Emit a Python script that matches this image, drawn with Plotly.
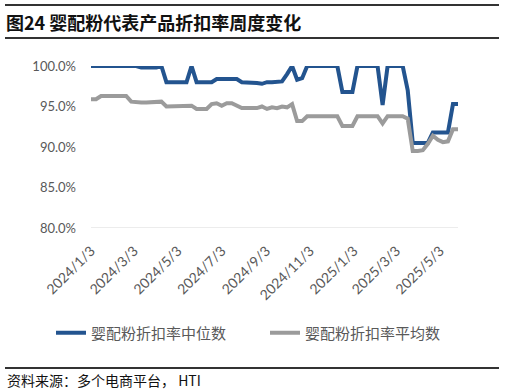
import plotly.graph_objects as go
import pandas as pd

dates = pd.date_range("2024-01-03", periods=74, freq="7D")

median_vals = [
    100, 100, 100, 100, 100, 100, 100, 100, 100, 100,
    99.8, 99.8, 99.8, 99.8, 100, 98, 98, 98, 98, 98,
    100, 98, 98, 98, 98, 98.4, 98.4, 98.4, 98.4, 98.4,
    98, 98, 98, 97.9, 97.8, 98, 98, 98, 98.1, 99,
    100, 98.3, 98.5, 100, 100, 100, 100, 100, 100, 100,
    96.8, 96.8, 96.8, 100, 100, 100, 100, 100, 95.2, 100,
    100, 100, 100, 97, 90.5, 90.5, 90.5, 90.5, 91.8, 91.8,
    91.8, 91.8, 95.3, 95.3,
]
mean_vals = [
    95.9, 95.9, 96.3, 96.3, 96.3, 96.3, 96.3, 96.3, 95.6, 95.5,
    95.5, 95.5, 95.5, 95.6, 95.6, 95.0, 95.0, 95.0, 95.0, 95.0,
    95.1, 94.7, 94.7, 94.7, 95.3, 95.4, 95.1, 95.4, 95.4, 95.1,
    94.8, 94.8, 94.8, 94.8, 95.0, 94.7, 94.9, 94.8, 95.0, 94.9,
    95.3, 93.2, 93.2, 93.8, 93.8, 93.8, 93.8, 93.8, 93.8, 93.8,
    92.6, 92.6, 92.6, 93.8, 93.8, 93.8, 93.8, 93.8, 92.9, 93.8,
    93.8, 93.8, 93.8, 93.5, 89.5, 89.5, 89.6, 90.4, 91.4, 90.9,
    90.6, 90.7, 92.2, 92.2,
]

tick_dates = ["2024-01-03", "2024-03-03", "2024-05-03", "2024-07-03", "2024-09-03",
              "2024-11-03", "2025-01-03", "2025-03-03", "2025-05-03"]
tick_labels = ["2024/1/3", "2024/3/3", "2024/5/3", "2024/7/3", "2024/9/3",
               "2024/11/3", "2025/1/3", "2025/3/3", "2025/5/3"]
y_ticks = [80, 85, 90, 95, 100]
y_labels = ["80.0%", "85.0%", "90.0%", "95.0%", "100.0%"]

name_median = "婴配粉折扣率中位数"
name_mean = "婴配粉折扣率平均数"
title_text = "图24 婴配粉代表产品折扣率周度变化"
source_text = "资料来源：多个电商平台，\u00a0HTI"

W, H = 506, 392
# plot area in pixels
PL, PR, PT, PB = 91, 458, 66, 228

def px(x):
    return x / W

def py(y):
    return 1 - y / H

fig = go.Figure()
fig.add_trace(go.Scatter(x=dates, y=median_vals, mode="lines", name=name_median,
                         line=dict(color="#23548F", width=4), cliponaxis=False))
fig.add_trace(go.Scatter(x=dates, y=mean_vals, mode="lines", name=name_mean,
                         line=dict(color="#9B9B9B", width=4), cliponaxis=False))

gray = "#595959"

def rule_box(y):
    # thin filled annotation box used as a horizontal rule
    return dict(text="\u00a0", xref="paper", yref="paper", x=px(5), y=py(y),
                xanchor="left", yanchor="middle", showarrow=False,
                width=494, height=1.5, borderpad=0, borderwidth=0,
                bgcolor="#333333", font=dict(size=1, color="#333333"))

fig.update_layout(
    width=W, height=H,
    margin=dict(l=0, r=0, t=0, b=0, pad=0, autoexpand=False),
    paper_bgcolor="white", plot_bgcolor="white",
    showlegend=True,
    legend=dict(orientation="h", x=px(51), y=py(333), yanchor="middle", xanchor="left",
                font=dict(family="Noto Sans CJK SC", size=15, color=gray),
                itemwidth=30, entrywidth=169, entrywidthmode="pixels",
                borderwidth=0, bgcolor="rgba(0,0,0,0)"),
    xaxis=dict(type="date", range=[dates[0], dates[-1]], automargin=False,
               domain=[px(PL), px(PR)],
               tickvals=tick_dates, ticktext=tick_labels, tickangle=-45,
               showgrid=False, zeroline=False, showline=False, ticks="",
               ticklabelstandoff=11,
               tickfont=dict(family="Lato", size=14, color=gray)),
    yaxis=dict(range=[80, 100], tickvals=y_ticks, ticktext=y_labels, automargin=False,
               domain=[py(PB), py(PT)],
               showgrid=False, zeroline=False, showline=False, ticks="",
               ticklabelstandoff=14,
               tickfont=dict(family="Lato", size=13, color=gray)),
    shapes=[
        dict(type="line", xref="x domain", yref="y", x0=0, x1=1, y0=80, y1=80,
             line=dict(color="#D9D9D9", width=1.2), layer="below"),
    ],
    annotations=[
        dict(text="<b>" + title_text + "</b>", xref="paper", yref="paper", x=px(4), y=py(22),
             xanchor="left", yanchor="middle", showarrow=False,
             font=dict(family="Noto Sans CJK SC", size=18, color="#111111")),
        dict(text=source_text, xref="paper", yref="paper", x=px(5), y=py(380),
             xanchor="left", yanchor="middle", showarrow=False,
             font=dict(family="Noto Sans CJK SC", size=14, color="#111111")),
        rule_box(5), rule_box(38), rule_box(368),
    ],
)

fig.write_html("out.html", config={"displayModeBar": False},
               post_script="document.body.style.margin='0';document.body.style.overflow='hidden';")
